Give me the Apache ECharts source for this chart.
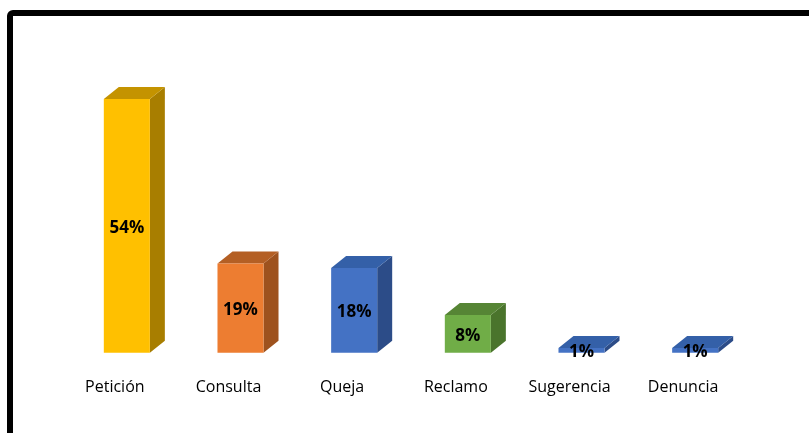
<!DOCTYPE html>
<html>
<head>
<meta charset="utf-8">
<script src="https://cdn.jsdelivr.net/npm/echarts@6/dist/echarts.min.js"></script>
<style>html,body{margin:0;padding:0;background:#fff;}#c{width:809px;height:433px;}</style>
</head>
<body>
<div id="c"></div>
<script>
var categories = ['Petición', 'Consulta', 'Queja', 'Reclamo', 'Sugerencia', 'Denuncia'];
var values = [54, 19, 18, 8, 1, 1];
var labels = ['54%', '19%', '18%', '8%', '1%', '1%'];
var frontColors = ['#FFC000', '#ED7D31', '#4472C4', '#70AD47', '#4472C4', '#4472C4'];
var topColors = ['#C49300', '#B45F24', '#3460A8', '#568535', '#3460A8', '#3460A8'];
var sideColors = ['#A87E00', '#9E521E', '#2C4C88', '#4A742C', '#2C4C88', '#2C4C88'];

var chart = echarts.init(document.getElementById('c'));
var DX = 15, DY = -12;
chart.setOption({
  animation: false,
  grid: {left: 70, right: 57, top: 70.7, bottom: 80.3},
  graphic: [{
    type: 'rect', z: 100,
    shape: {x: 10, y: 13, width: 900, height: 600, r: 3},
    style: {fill: 'none', stroke: '#000', lineWidth: 6}
  }],
  xAxis: {
    type: 'category', data: categories,
    axisLine: {show: false}, axisTick: {show: false},
    axisLabel: {margin: 27, padding: [0, 24, 0, 0], fontFamily: 'Open Sans', fontSize: 16, color: '#000'}
  },
  yAxis: {type: 'value', min: 0, max: 60, show: false, splitLine: {show: false}},
  series: [{
    type: 'custom',
    data: values.map(function (v, i) { return [i, v]; }),
    renderItem: function (params, api) {
      var i = api.value(0), v = api.value(1);
      var base = api.coord([i, 0]);
      var top = api.coord([i, v]);
      var w = api.size([1, 0])[0] * 0.405;
      var x0 = base[0] - w / 2, x1 = base[0] + w / 2;
      var yb = base[1], yt = top[1];
      return {
        type: 'group',
        children: [
          {type: 'polygon', shape: {points: [[x1, yt], [x1 + DX, yt + DY], [x1 + DX, yb + DY], [x1, yb]]},
            style: {fill: sideColors[i]}},
          {type: 'polygon', shape: {points: [[x0, yt], [x0 + DX, yt + DY], [x1 + DX, yt + DY], [x1, yt]]},
            style: {fill: topColors[i]}},
          {type: 'rect', shape: {x: x0, y: yt, width: w, height: yb - yt},
            style: {fill: frontColors[i]}},
          {type: 'text', z2: 10, style: {
            text: labels[i], x: base[0], y: (yt + yb) / 2 + 2,
            align: 'center', verticalAlign: 'middle',
            fontFamily: 'Open Sans', fontWeight: 'bold', fontSize: 17, fill: '#000'
          }}
        ]
      };
    }
  }]
});
</script>
</body>
</html>
